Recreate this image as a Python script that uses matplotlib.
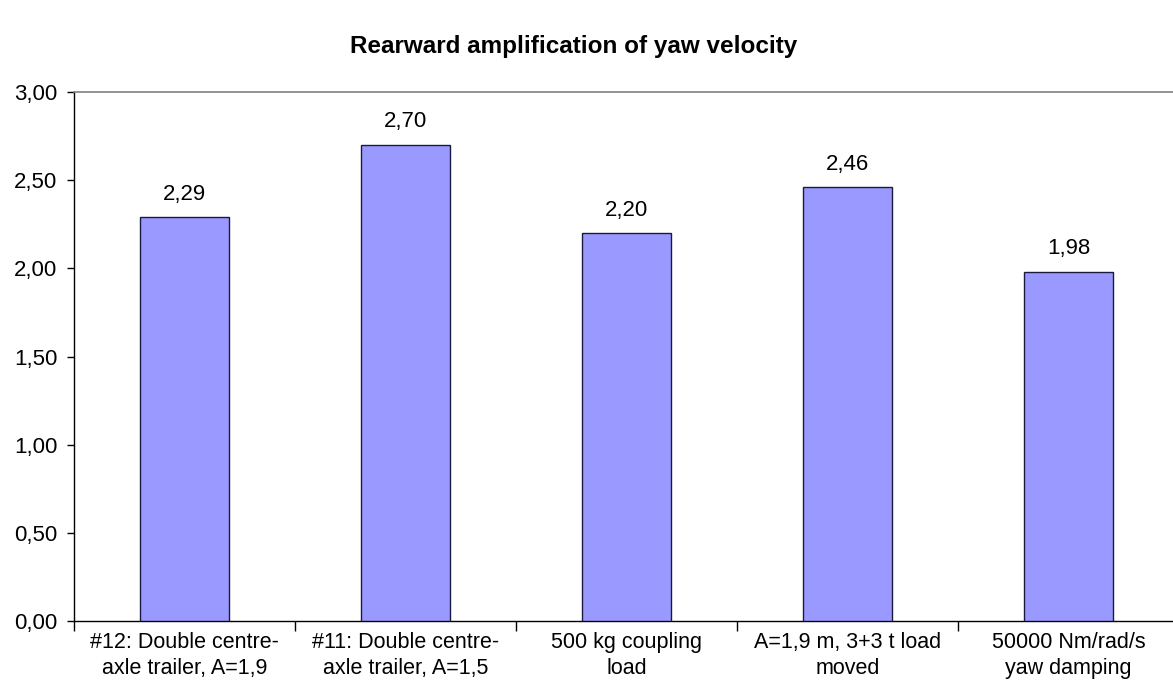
import matplotlib.pyplot as plt
import numpy as np

plt.rcParams['font.family'] = ['Liberation Sans', 'DejaVu Sans']

categories = [
    "#12: Double centre-\naxle trailer, A=1,9",
    "#11: Double centre-\naxle trailer, A=1,5",
    "500 kg coupling\nload",
    "A=1,9 m, 3+3 t load\nmoved",
    "50000 Nm/rad/s\nyaw damping",
]
values = [2.29, 2.70, 2.20, 2.46, 1.98]
yticks = [0.0, 0.5, 1.0, 1.5, 2.0, 2.5, 3.0]

fig = plt.figure(figsize=(11.73, 6.95), dpi=100)
# plot area runs past the right edge of the figure
ax = fig.add_axes([74 / 1173, 74 / 695, 1105 / 1173, 529 / 695])

x = np.arange(len(categories))
ax.bar(x, values, width=0.4, color="#9999FF", edgecolor="#1a1a40", linewidth=1.0, zorder=3)

for xi, v in zip(x, values):
    ax.annotate(f"{v:.2f}".replace(".", ","), (xi, v), xytext=(0, 9),
                textcoords="offset points", ha="center", va="bottom", fontsize=16)

ax.set_xlim(-0.5, len(categories) - 0.5)
ax.set_ylim(0, 3.0)
ax.set_yticks(yticks)
ax.set_yticklabels([f"{t:.2f}".replace(".", ",") for t in yticks], fontsize=16)

# category labels centred, tick marks on the boundaries
ax.set_xticks(np.arange(len(categories) + 1) - 0.5)
ax.set_xticklabels([])
ax.set_xticks(x, minor=True)
ax.set_xticklabels(categories, minor=True, fontsize=15.5, linespacing=1.3)
ax.tick_params(axis="x", which="major", direction="out", length=7, width=1)
ax.tick_params(axis="x", which="minor", length=0, pad=8)
ax.tick_params(axis="y", direction="out", length=5, width=1, pad=7)

ax.spines["top"].set_color("#808080")
ax.spines["top"].set_linewidth(1.2)
ax.spines["right"].set_visible(False)
ax.spines["left"].set_linewidth(1.0)
ax.spines["bottom"].set_linewidth(1.0)

fig.text(574 / 1173, 1 - 46 / 695, "Rearward amplification of yaw velocity",
         ha="center", va="center", fontsize=17.5, fontweight="bold")

plt.savefig("out.png", dpi=100)
plt.close()
